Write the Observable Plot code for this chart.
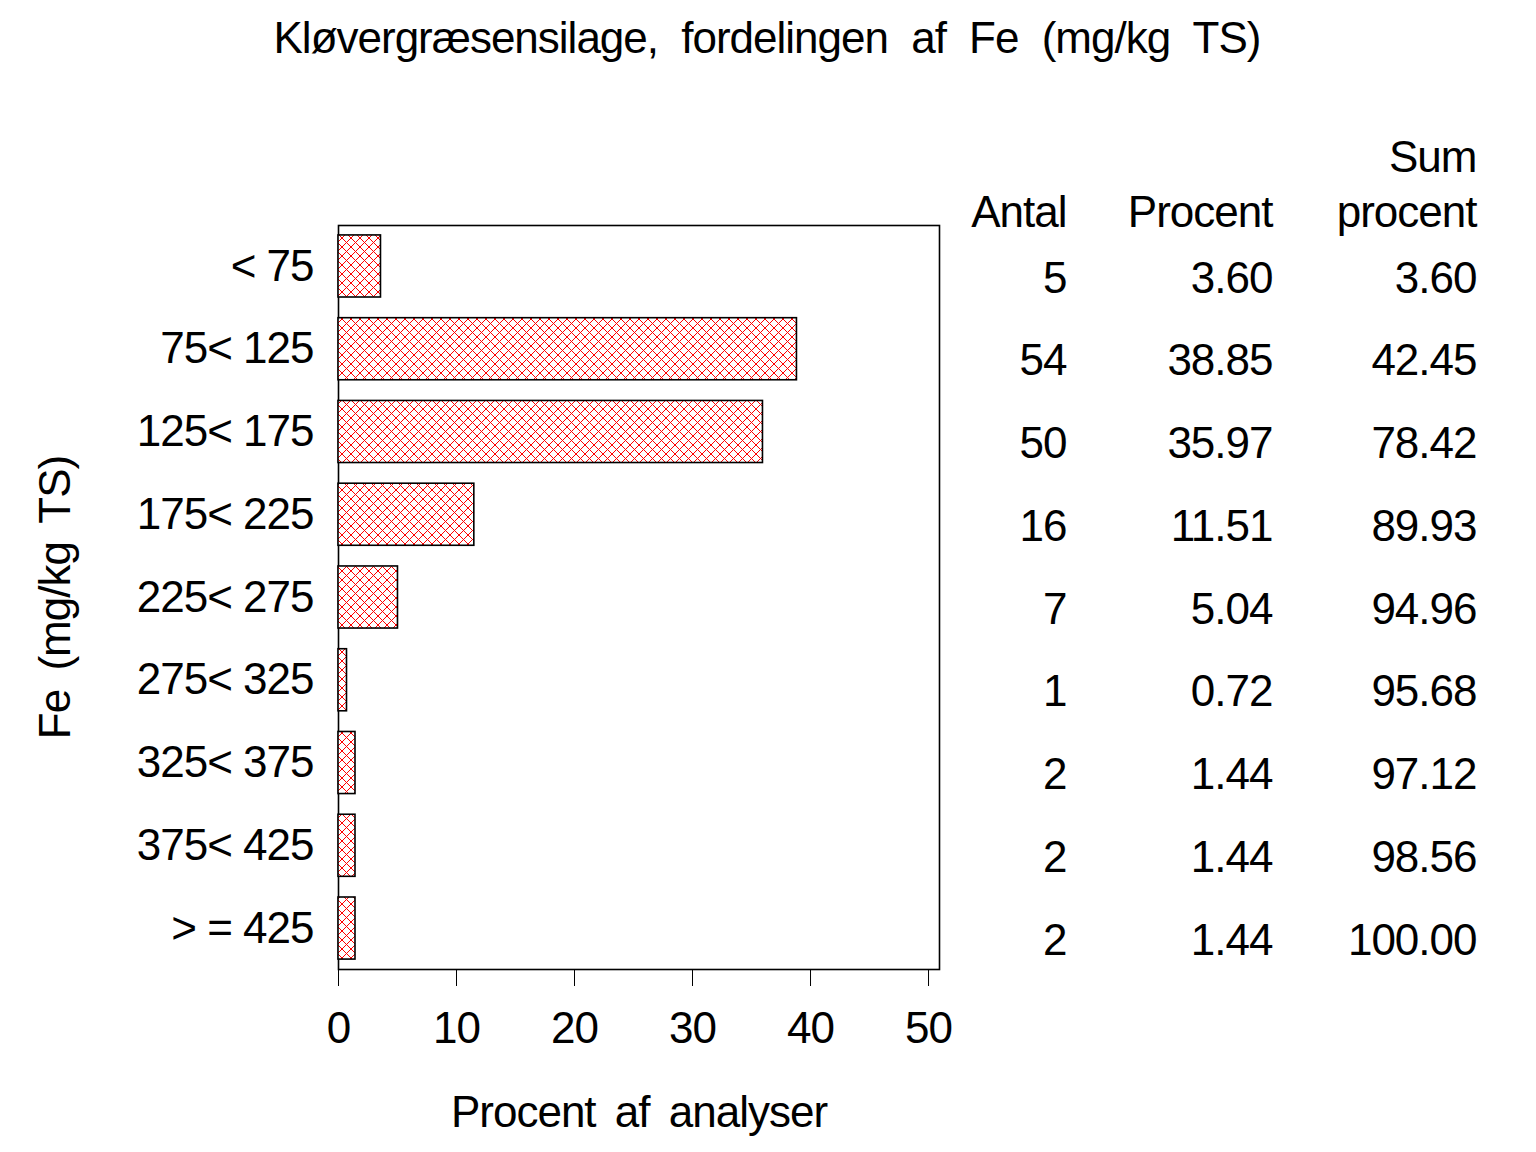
<!DOCTYPE html>
<html>
<head>
<meta charset="utf-8">
<script src="https://cdn.jsdelivr.net/npm/d3@7"></script>
<script src="https://cdn.jsdelivr.net/npm/@observablehq/plot@0.6"></script>
<style>
  html, body { margin: 0; padding: 0; background: #fff; }
  #wrap { width: 1536px; height: 1152px; position: relative; font-family: "Liberation Sans", Arial, sans-serif; }
  #title { height: 76px; line-height: 76px; text-align: center; font-size: 44px; letter-spacing: -1px; word-spacing: 12px; color: #000; padding-right: 2px; }
  svg text { font-family: "Liberation Sans", Arial, sans-serif; }
</style>
</head>
<body>
<div id="wrap">
  <div id="title">Kløvergræsensilage, fordelingen af Fe (mg/kg TS)</div>
  <div id="chart"></div>
</div>
<script>
const categories = ["< 75", "75< 125", "125< 175", "175< 225", "225< 275", "275< 325", "325< 375", "375< 425", "> = 425"];
const antal = [5, 54, 50, 16, 7, 1, 2, 2, 2];
const procent = [3.60, 38.85, 35.97, 11.51, 5.04, 0.72, 1.44, 1.44, 1.44];
const sumProcent = [3.60, 42.45, 78.42, 89.93, 94.96, 95.68, 97.12, 98.56, 100.00];
const xTicks = [0, 10, 20, 30, 40, 50];
const xLabel = "Procent af analyser";
const yLabel = "Fe (mg/kg TS)";
const headers = [
  {text: "Antal", col: 0, row: 1},
  {text: "Procent", col: 1, row: 1},
  {text: "Sum", col: 2, row: 0},
  {text: "procent", col: 2, row: 1}
];

const rows = categories.map((c, i) => ({
  cat: c, antal: antal[i], procent: procent[i], sum: sumProcent[i]
}));

const colDx = [127, 333, 537];
const headDy = [-68, -13];
const fs = 44;

const chart = Plot.plot({
  width: 1536,
  height: 1076,
  marginLeft: 338,
  marginRight: 597,
  marginTop: 149,
  marginBottom: 183,
  style: {fontSize: fs + "px", fontFamily: "Liberation Sans, Arial, sans-serif", color: "#000", background: "#fff", overflow: "visible"},
  x: {domain: [0, 50.93], ticks: xTicks, tickSize: 17, tickPadding: 25, label: null, tickFormat: d => String(d)},
  y: {domain: categories, paddingInner: 0.25, paddingOuter: 0.12, round: false, tickSize: 0, tickPadding: 25, label: null},
  marks: [
    Plot.frame({stroke: "#000", strokeWidth: 1.6}),
    Plot.barX(rows, {x: "procent", y: "cat", fill: "url(#hatch)", stroke: "#000", strokeWidth: 1.6}),
    Plot.text(rows, {y: "cat", text: d => String(d.antal), frameAnchor: "right", textAnchor: "end", lineAnchor: "middle", dx: colDx[0], dy: 12, fontSize: fs}),
    Plot.text(rows, {y: "cat", text: d => d.procent.toFixed(2), frameAnchor: "right", textAnchor: "end", lineAnchor: "middle", dx: colDx[1], dy: 12, fontSize: fs}),
    Plot.text(rows, {y: "cat", text: d => d.sum.toFixed(2), frameAnchor: "right", textAnchor: "end", lineAnchor: "middle", dx: colDx[2], dy: 12, fontSize: fs}),
    ...headers.map(h => Plot.text([h], {text: "text", frameAnchor: "top-right", textAnchor: "end", lineAnchor: "middle", dx: colDx[h.col], dy: headDy[h.row], fontSize: fs})),
    Plot.text([xLabel], {text: d => d, frameAnchor: "bottom", textAnchor: "middle", lineAnchor: "middle", dy: 143, fontSize: fs}),
    Plot.text([yLabel], {text: d => d, frameAnchor: "left", textAnchor: "middle", lineAnchor: "middle", rotate: -90, dx: -283, fontSize: fs})
  ]
});

// hatch pattern definition
const ns = "http://www.w3.org/2000/svg";
const defs = document.createElementNS(ns, "defs");
defs.innerHTML = `<pattern id="hatch" patternUnits="userSpaceOnUse" width="9" height="9">
  <rect width="9" height="9" fill="#fff"/>
  <path d="M0,0L9,9M9,0L0,9M-1,8L1,10M8,-1L10,1M-1,1L1,-1M8,10L10,8" stroke="#ff0000" stroke-width="1" fill="none"/>
</pattern>`;
chart.insertBefore(defs, chart.firstChild);
chart.querySelectorAll("text").forEach(t => {
  t.style.letterSpacing = "-1px";
  if (t.textContent === xLabel || t.textContent === yLabel) t.style.wordSpacing = "8px";
});
document.getElementById("chart").appendChild(chart);
</script>
</body>
</html>
